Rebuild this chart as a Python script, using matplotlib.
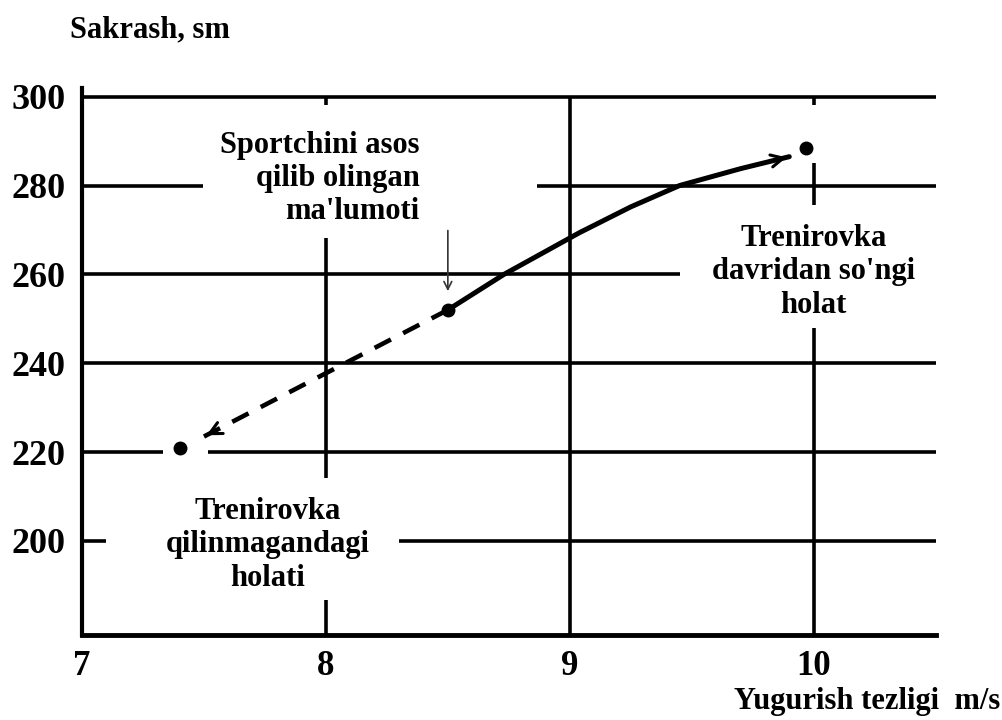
import numpy as np
import matplotlib.pyplot as plt
from matplotlib.patches import Rectangle

# shrift: Times ga o'xshash qalin serif
plt.rcParams['font.family'] = ['Liberation Serif', 'DejaVu Serif']
plt.rcParams['font.weight'] = 'bold'

# nuqtalar (sportchi holatlari)
nuqta_x = [7.4, 8.5, 9.97]
nuqta_y = [221, 252, 288.5]

# uzuq chiziq - trenirovkagacha
uzuq_x = [8.5, 7.5]
uzuq_y = [252, 223.5]

# tutash egri chiziq - trenirovkadan keyin
egri_x = [8.5, 8.73, 9.04, 9.25, 9.45, 9.7, 9.9]
egri_y = [252, 260, 269.4, 275.2, 280, 283.8, 286.5]

x_ticks = [7, 8, 9, 10]
y_ticks = [200, 220, 240, 260, 280, 300]

fig = plt.figure(figsize=(10.03, 7.2), dpi=100)
ax = fig.add_axes([0.0818, 0.118, 0.851, 0.760])
ax.set_xlim(7, 10.5)
ax.set_ylim(178.8, 302)

# to'r chiziqlari
for y in y_ticks:
    ax.axhline(y, color='black', lw=2.6, zorder=1)
for x in x_ticks[1:]:
    ax.vlines(x, 178.8, 300, color='black', lw=2.6, zorder=1)

# yozuvlar ostidagi oq joylar (x0, x1, y0, y1)
oq_joylar = [(7.496, 8.865, 268.2, 298.2),
             (9.45, 10.6, 248.0, 275.7),
             (7.10, 8.30, 186.7, 214.2),
             (9.93, 10.04, 285.1, 298.2),
             (7.332, 7.516, 217, 224.5)]
for x0, x1, y0, y1 in oq_joylar:
    ax.add_patch(Rectangle((x0, y0), x1 - x0, y1 - y0, fc='white', ec='none', zorder=2))

# chiziqlar
ax.plot(uzuq_x, uzuq_y, color='black', lw=3.3, ls=(0, (4, 3)), zorder=3)
ax.plot(egri_x, egri_y, color='black', lw=3.6, solid_capstyle='round',
        solid_joinstyle='round', zorder=3)
ax.annotate('', xy=(uzuq_x[-1], uzuq_y[-1]), xytext=(7.56, 225.2),
            arrowprops=dict(arrowstyle='->', lw=2.2, color='black', mutation_scale=22), zorder=3)
ax.annotate('', xy=(egri_x[-1], egri_y[-1]), xytext=(9.8, 285.2),
            arrowprops=dict(arrowstyle='->', lw=2.2, color='black', mutation_scale=22), zorder=3)
ax.annotate('', xy=(8.5, 255.6), xytext=(8.5, 270.5),
            arrowprops=dict(arrowstyle='->', lw=1.2, color='#333333', mutation_scale=14), zorder=3)

ax.plot(nuqta_x, nuqta_y, 'o', color='black', ms=9, zorder=4)

# izohlar
ax.text(8.385, 281.6, "Sportchini asos\nqilib olingan\nma'lumoti", ha='right', va='center',
        multialignment='right', fontsize=22, linespacing=1.2, zorder=5)
ax.text(10.0, 260.6, "Trenirovka\ndavridan so'ngi\nholat", ha='center', va='center',
        multialignment='center', fontsize=22, linespacing=1.2, zorder=5)
ax.text(7.76, 199.1, "Trenirovka\nqilinmagandagi\nholati", ha='center', va='center',
        multialignment='center', fontsize=22, linespacing=1.2, zorder=5)

# o'qlar
for s in ['top', 'right']:
    ax.spines[s].set_visible(False)
ax.spines['left'].set_linewidth(3)
ax.spines['bottom'].set_linewidth(3.5)
ax.set_xticks(x_ticks)
ax.set_yticks(y_ticks)
ax.tick_params(axis='x', length=0, pad=11, labelsize=25)
ax.tick_params(axis='y', length=0, pad=12, labelsize=26)
for lab in ax.get_xticklabels() + ax.get_yticklabels():
    lab.set_fontweight('bold')

fig.text(70 / 1003, 1 - 30 / 720, "Sakrash, sm", ha='left', va='center', fontsize=22)
fig.text(1000 / 1003, 1 - 702 / 720, "Yugurish tezligi  m/s", ha='right', va='center', fontsize=22)

fig.savefig('out.png', dpi=100)
